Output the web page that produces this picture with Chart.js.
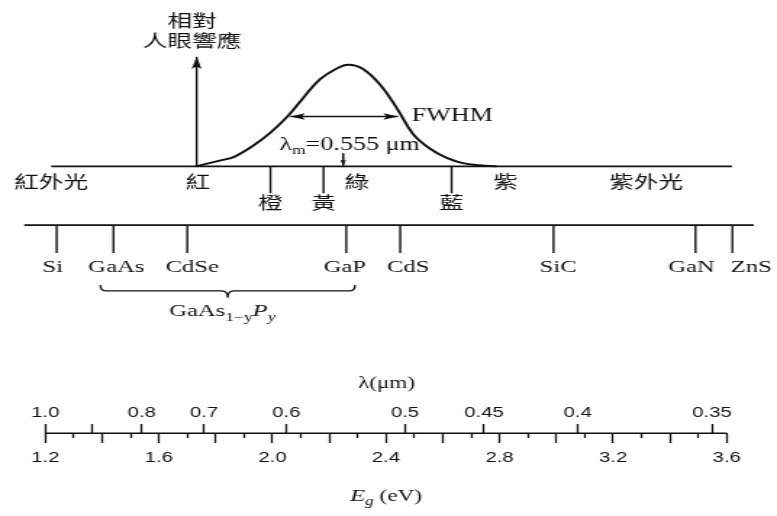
<!DOCTYPE html>
<html lang="zh-Hant">
<head>
<meta charset="UTF-8">
<title>人眼響應與半導體能隙</title>
<style>
  html, body { margin: 0; padding: 0; background: #fff; overflow: hidden; }
  /* the scanned figure is stretched sideways, so the whole chart is widened with scaleX */
  #wrap { position: absolute; left: 0; top: 0; width: 536px; height: 516px;
          transform: scaleX(1.4496); transform-origin: 0 0; }
</style>
</head>
<body>
<div id="wrap"><canvas id="chart"></canvas></div>

<script src="https://cdn.jsdelivr.net/npm/chart.js"></script>
<script>
// relative eye response (x: photon energy in eV, y: relative response)
const eyeEnergy   = [1.730, 1.818, 1.863, 1.933, 1.993, 2.053, 2.109, 2.168, 2.225, 2.267,
                     2.319, 2.382, 2.439, 2.495, 2.554, 2.614, 2.670, 2.730, 2.789];
const eyeResponse = [0, 0.059, 0.091, 0.206, 0.333, 0.49, 0.676, 0.858, 0.961, 1.0,
                     0.958, 0.794, 0.569, 0.319, 0.176, 0.083, 0.032, 0.01, 0];

// colour names along the spectrum line
const spectrumNames  = ['紅外光', '紅', '綠', '紫', '紫外光'];
const spectrumNameE  = [1.221, 1.737, 2.298, 2.821, 3.316];
const colorTickNames = ['橙', '黃', '藍'];
const colorTickE     = [1.993, 2.180, 2.631];

// semiconductor band gaps (eV)
const materials   = ['Si', 'GaAs', 'CdSe', 'GaP', 'CdS', 'SiC', 'GaN', 'ZnS'];
const materialGap = [1.24, 1.44, 1.70, 2.26, 2.45, 2.99, 3.49, 3.62];

// bottom scale
const energyMajor  = [1.2, 1.4, 1.6, 1.8, 2.0, 2.2, 2.4, 2.6, 2.8, 3.0, 3.2, 3.4, 3.6];
const energyMinor  = [1.3, 1.5, 1.7, 1.9, 2.1, 2.3, 2.5, 2.7, 2.9, 3.1, 3.3, 3.5];
const energyLabels = ['1.2', '1.6', '2.0', '2.4', '2.8', '3.2', '3.6'];
const lambdaLabels = ['1.0', '', '0.8', '0.7', '0.6', '0.5', '0.45', '0.4', '0.35'];
const lambdaTickE  = [1.200, 1.364, 1.540, 1.759, 2.049, 2.467, 2.745, 3.075, 3.548];

// other read-off values
const spectrumSpan = [1.221, 3.618];
const materialSpan = [1.126, 3.695];
const axisSpan     = [1.2, 3.6];
const alloySpan    = [1.394, 2.291];   // GaAs(1-y)P(y)
const fwhmSpan     = [2.063, 2.442];
const fwhmLevel    = 0.49;
const peakE        = 2.249;
const responseAxisE = 1.733;

// rows of the drawing, in response units
const ROW_TOP = 1.078, ROW_COLOR_TICK = -0.265, ROW_MATERIAL = -0.578,
      ROW_MATERIAL_TICK = -0.853, ROW_AXIS = -2.627;

const K = '#111';
const SERIF = '"Liberation Serif", "DejaVu Serif", serif';
const CJK = '"Noto Sans CJK TC", "Noto Sans CJK SC", sans-serif';

function seg(points, extra) {
  return Object.assign({ data: points, borderColor: K, borderWidth: 1.6, pointRadius: 0,
                         fill: false, borderCapStyle: 'butt' }, extra || {});
}
function ticksAt(es, y0, y1) {
  const pts = [];
  es.forEach(e => pts.push({x: e, y: y0}, {x: e, y: y1}, {x: e, y: null}));
  return pts;
}

const datasets = [
  seg(eyeEnergy.map((e, i) => ({x: e, y: eyeResponse[i]})),
      { borderWidth: 2, tension: 0.4 }),
  seg([{x: spectrumSpan[0], y: 0}, {x: spectrumSpan[1], y: 0}]),
  seg(ticksAt(colorTickE, 0, ROW_COLOR_TICK), { borderWidth: 1.4 }),
  seg([{x: responseAxisE, y: 0}, {x: responseAxisE, y: ROW_TOP}],
      { borderWidth: 1.4, arrow: { len: 12, half: 3.4 } }),
  seg([{x: fwhmSpan[0], y: fwhmLevel}, {x: fwhmSpan[1], y: fwhmLevel}],
      { borderWidth: 1.4, arrow: { len: 10, half: 3.2, both: true } }),
  seg([{x: peakE, y: 0.127}, {x: peakE, y: 0.005}],
      { borderWidth: 1, arrow: { len: 6, half: 2 } }),
  seg([{x: materialSpan[0], y: ROW_MATERIAL}, {x: materialSpan[1], y: ROW_MATERIAL}]),
  seg(ticksAt(materialGap, ROW_MATERIAL, ROW_MATERIAL_TICK), { borderWidth: 1.4 }),
  seg([{x: axisSpan[0], y: ROW_AXIS}, {x: axisSpan[1], y: ROW_AXIS}], { borderWidth: 1.4 })
];

const xRange = { min: 1.04561, max: 3.77193 };
const tickGrid = len => ({ display: true, drawOnChartArea: false, drawTicks: true,
                           tickLength: len, tickWidth: 1.3, tickColor: K });
const tickFont = { family: '"Liberation Sans", Arial, sans-serif', size: 14 };

// texts, arrowheads and the brace
const annotate = {
  id: 'annotate',
  afterDatasetsDraw(chart) {
    const { ctx, scales: { x, y } } = chart;
    const X = e => x.getPixelForValue(e), Y = v => y.getPixelForValue(v);
    ctx.save();
    ctx.fillStyle = K;
    ctx.strokeStyle = K;

    chart.data.datasets.forEach((ds, i) => {
      if (!ds.arrow) return;
      const pts = chart.getDatasetMeta(i).data;
      const head = (tip, from) => {
        ctx.save();
        ctx.translate(tip.x, tip.y);
        ctx.rotate(Math.atan2(tip.y - from.y, tip.x - from.x));
        ctx.beginPath();
        ctx.moveTo(0, 0);
        ctx.lineTo(-ds.arrow.len, -ds.arrow.half);
        ctx.lineTo(-ds.arrow.len * 0.8, 0);
        ctx.lineTo(-ds.arrow.len, ds.arrow.half);
        ctx.closePath();
        ctx.fill();
        ctx.restore();
      };
      head(pts[pts.length - 1], pts[pts.length - 2]);
      if (ds.arrow.both) head(pts[0], pts[1]);
    });

    const text = (s, e, v, font, align, base) => {
      ctx.font = font;
      ctx.textAlign = align || 'center';
      ctx.textBaseline = base || 'middle';
      ctx.fillText(s, X(e), Y(v));
    };
    // pieces with sub-scripts, on one alphabetic baseline
    const rich = (parts, e, v, align) => {
      ctx.textBaseline = 'alphabetic';
      ctx.textAlign = 'left';
      let w = 0;
      parts.forEach(p => { ctx.font = p.font; p.w = ctx.measureText(p.t).width; w += p.w; });
      let px = X(e) - (align === 'left' ? 0 : w / 2);
      parts.forEach(p => { ctx.font = p.font; ctx.fillText(p.t, px, Y(v) + (p.dy || 0)); px += p.w; });
    };

    text('相對', 1.7175, 1.431, '17px ' + CJK);
    text('人眼響應', 1.7175, 1.235, '17px ' + CJK);
    spectrumNames.forEach((s, i) => text(s, spectrumNameE[i], -0.147, '17px ' + CJK));
    colorTickNames.forEach((s, i) => text(s, colorTickE[i], -0.358, '17px ' + CJK));

    text('FWHM', 2.491, 0.451, '18px ' + SERIF, 'left', 'alphabetic');
    rich([{ t: 'λ', font: '18px ' + SERIF },
          { t: 'm', font: '12px ' + SERIF, dy: 4 },
          { t: '=0.555 μm', font: '18px ' + SERIF }], 2.0246, 0.157, 'left');

    // label offsets from their tick, in eV
    const labelShift = { Si: -0.014, GaAs: 0.01, CdSe: 0.018, GaP: -0.005, CdS: 0.028,
                         SiC: 0.016, GaN: -0.014, ZnS: 0.066 };
    materials.forEach((m, i) =>
      text(m, materialGap[i] + (labelShift[m] || 0), -1.039, '17px ' + SERIF, 'center', 'alphabetic'));

    // brace under GaAs ... GaP
    const bx0 = X(alloySpan[0]), bx1 = X(alloySpan[1]), mx = (bx0 + bx1) / 2;
    const yTop = Y(-1.167), yMid = Y(-1.225), yTip = Y(-1.294), r = 4;
    ctx.lineWidth = 1.3;
    ctx.beginPath();
    ctx.moveTo(bx0, yTop);
    ctx.quadraticCurveTo(bx0, yMid, bx0 + r, yMid);
    ctx.lineTo(mx - r, yMid);
    ctx.quadraticCurveTo(mx, yMid, mx, yTip);
    ctx.quadraticCurveTo(mx, yMid, mx + r, yMid);
    ctx.lineTo(bx1 - r, yMid);
    ctx.quadraticCurveTo(bx1, yMid, bx1, yTop);
    ctx.stroke();
    rich([{ t: 'GaAs', font: '17px ' + SERIF },
          { t: '1−y', font: '12px ' + SERIF, dy: 5 },
          { t: 'P', font: 'italic 17px ' + SERIF },
          { t: 'y', font: 'italic 12px ' + SERIF, dy: 5 }], 1.8235, -1.471);

    text('λ(μm)', 2.4017, -2.137, '16px ' + SERIF);
    rich([{ t: 'E', font: 'italic 17px ' + SERIF },
          { t: 'g', font: 'italic 12px ' + SERIF, dy: 4 },
          { t: ' (eV)', font: '16px ' + SERIF }], 2.4, -3.294);
    ctx.restore();
  }
};

new Chart(document.getElementById('chart'), {
  type: 'line',
  data: { datasets },
  options: {
    responsive: true,
    maintainAspectRatio: false,
    animation: false,
    events: [],
    layout: { padding: 0 },
    spanGaps: false,
    plugins: { legend: { display: false }, tooltip: { enabled: false } },
    scales: {
      x: { type: 'linear', display: false, ...xRange },
      y: { type: 'linear', display: false, min: -3.4314, max: 1.6275 },
      eMajor: {
        type: 'linear', axis: 'x', position: { y: ROW_AXIS }, ...xRange,
        border: { display: false }, grid: tickGrid(10),
        afterBuildTicks: s => { s.ticks = energyMajor.map(v => ({ value: v })); },
        ticks: { autoSkip: false, maxRotation: 0, padding: 6.6, color: K, font: tickFont,
                 callback: v => energyLabels.includes(v.toFixed(1)) ? v.toFixed(1) : '' }
      },
      eMinor: {
        type: 'linear', axis: 'x', position: { y: ROW_AXIS }, ...xRange,
        border: { display: false }, grid: tickGrid(5),
        afterBuildTicks: s => { s.ticks = energyMinor.map(v => ({ value: v })); },
        ticks: { display: false, autoSkip: false, maxRotation: 0 }
      },
      lam: {
        type: 'linear', axis: 'x', position: { y: ROW_AXIS }, ...xRange,
        border: { display: false }, grid: tickGrid(-9),
        afterBuildTicks: s => { s.ticks = lambdaTickE.map(v => ({ value: v })); },
        ticks: { autoSkip: false, maxRotation: 0, padding: -19.4, color: K, font: tickFont,
                 callback: (v, i) => lambdaLabels[i] }
      }
    }
  },
  plugins: [annotate]
});
</script>
</body>
</html>
